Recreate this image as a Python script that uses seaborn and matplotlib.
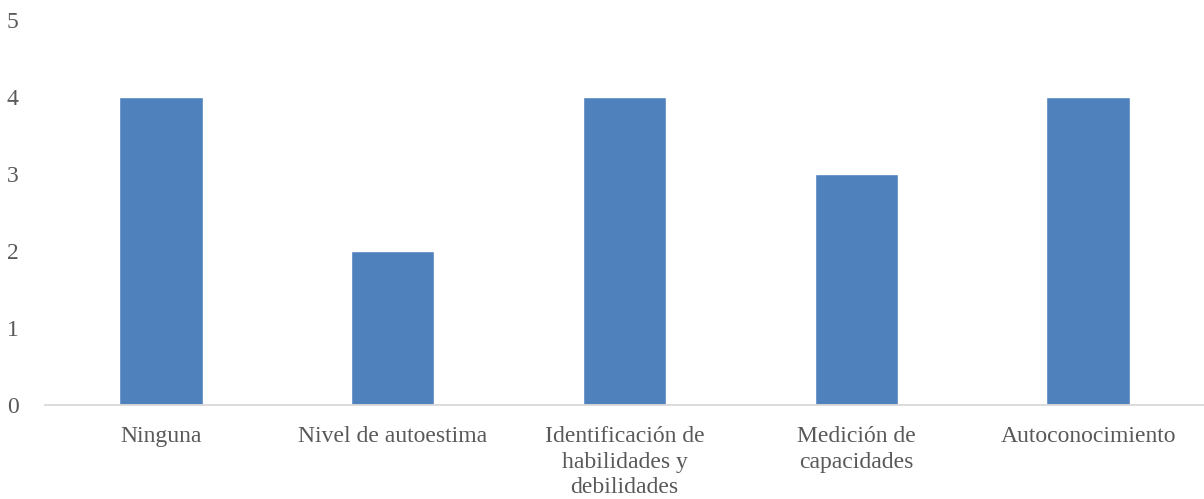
import pandas as pd
import seaborn as sns
import matplotlib
matplotlib.use('Agg')
import matplotlib.pyplot as plt

categorias = ['Ninguna', 'Nivel de autoestima', 'Identificación de\nhabilidades y\ndebilidades',
              'Medición de\ncapacidades', 'Autoconocimiento']
valores = [4, 2, 4, 3, 4]

df = pd.DataFrame({'cat': categorias, 'val': valores})

sns.set_style('white')
plt.rcParams['font.family'] = ['Liberation Serif', 'DejaVu Serif']

fig = plt.figure(figsize=(12.04, 4.99), dpi=100)
ax = fig.add_axes([0.0374, 0.1884, 0.9626, 0.7716])
sns.barplot(data=df, x='cat', y='val', color='#4F81BD', saturation=1, width=0.36, ax=ax)

ax.set_ylim(0, 5)
ax.set_xlim(-0.5, 4.5)
ax.set_yticks([0, 1, 2, 3, 4, 5])
ax.set_xlabel('')
ax.set_ylabel('')
for s in ['top', 'right', 'left']:
    ax.spines[s].set_visible(False)
ax.spines['bottom'].set_color('#D9D9D9')
ax.spines['bottom'].set_linewidth(1.3)
ax.tick_params(axis='both', length=0, labelsize=17, colors='#595959')
ax.tick_params(axis='y', pad=19)
ax.tick_params(axis='x', pad=15)
plt.setp(ax.get_xticklabels(), linespacing=1.3)

fig.savefig('out.png', dpi=100)
